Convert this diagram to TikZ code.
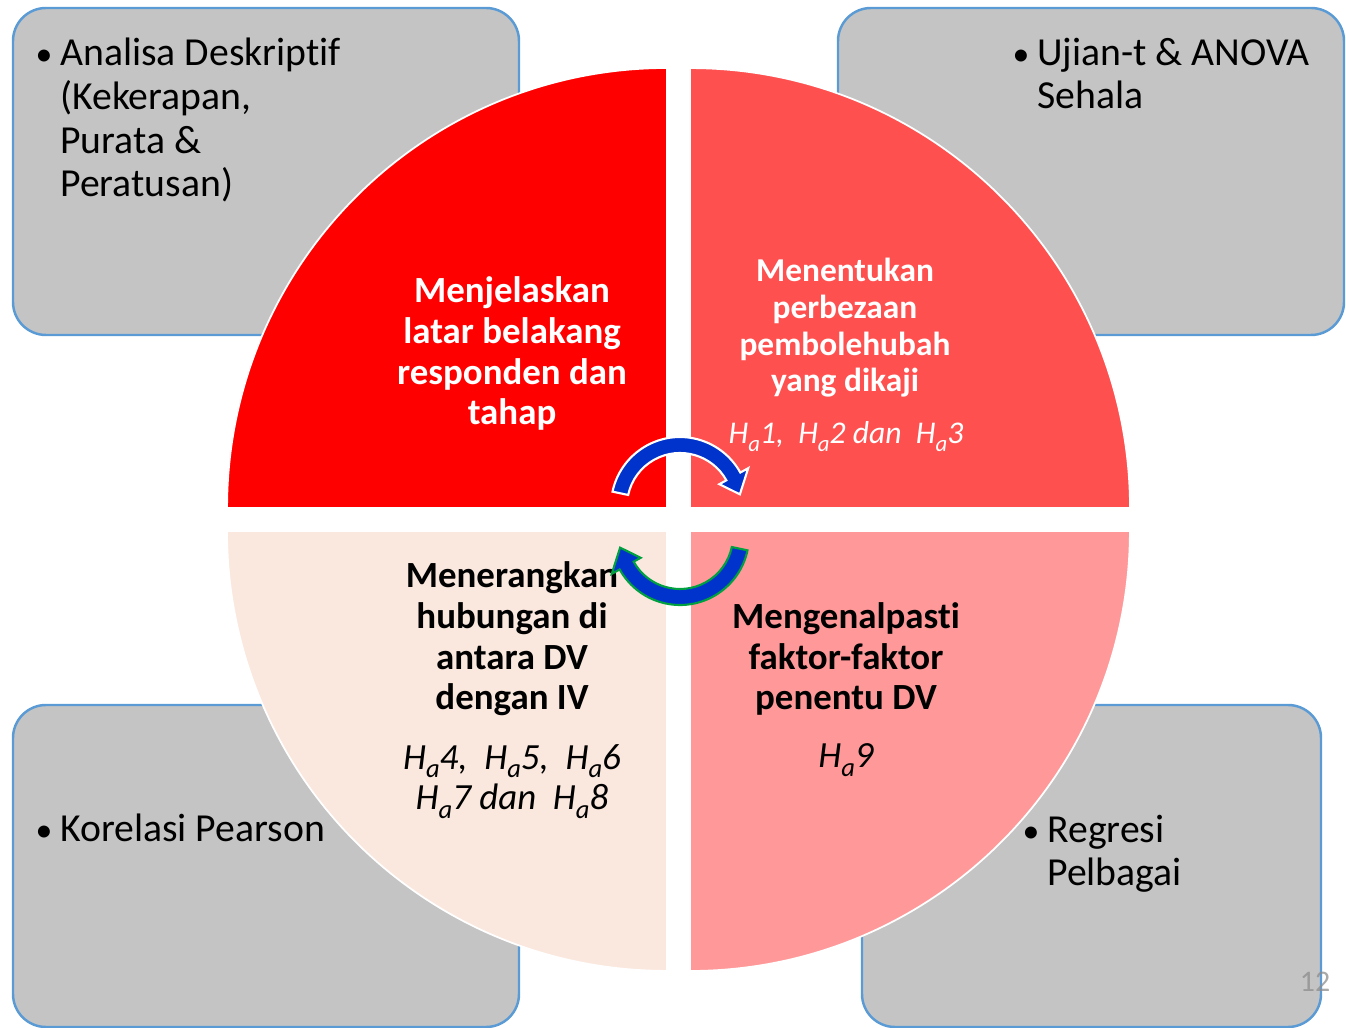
\documentclass[tikz,border=0pt]{standalone}
\usepackage{fontspec}
\usepackage{graphicx}
\setmainfont{Carlito}[Ligatures=NoCommon]

\definecolor{boxfill}{HTML}{C4C4C4}
\definecolor{boxline}{HTML}{5B9BD5}
\definecolor{quadA}{HTML}{FF0000}
\definecolor{quadB}{HTML}{FF5050}
\definecolor{quadC}{HTML}{FF9999}
\definecolor{quadD}{HTML}{FAE8DE}
\definecolor{arrowblue}{HTML}{0033CC}
\definecolor{arrowgreen}{HTML}{00A040}
\definecolor{pagegray}{HTML}{8C8C8C}

\newcommand{\Ha}[1]{H\raisebox{-0.24em}{\scalebox{0.72}{a}}#1}
\newcommand{\bulletpt}{\makebox[0pt][r]{\scalebox{0.85}{\textbullet}\hspace{4.5pt}}}

\begin{document}
\begin{tikzpicture}[
x=0.02cm, y=0.02cm,
databox/.style={draw=boxline,fill=boxfill,line width=1.4pt,rounded corners=0.66cm},
quadrant/.style={draw=white,line width=1pt},
aim/.style={font=\bfseries\fontsize{21}{23.3}\selectfont,align=center,anchor=base},
aimsmall/.style={font=\bfseries\fontsize{19}{21}\selectfont,align=center,anchor=base},
hypo/.style={font=\itshape\fontsize{21}{23.3}\selectfont,align=center,anchor=base},
hyposmall/.style={font=\itshape\fontsize{18}{21}\selectfont,align=center,anchor=base},
method/.style={font=\fontsize{22.6}{25}\selectfont,align=left,anchor=base west,inner sep=0pt},
cyclearrow/.style={fill=arrowblue,line width=1.2pt,line join=miter},
pagenum/.style={font=\fontsize{17}{20}\selectfont,text=pagegray,text opacity=0.75},
]

\useasboundingbox (0,0) rectangle (1346,1028);

% Boxes with the methods of analysis
\draw[databox] (13,693) rectangle (519,1020);
\draw[databox] (838,693) rectangle (1344,1020);
\draw[databox] (13,1) rectangle (519,323);
\draw[databox] (862,1) rectangle (1321,323);

% The four quarters of the circle
\foreach \cx/\cy/\start/\col in {667/520/90/quadA, 690/520/0/quadB, 667/497/180/quadD, 690/497/270/quadC}{
  \filldraw[quadrant,fill=\col] (\cx,\cy) -- ++(\start:440) arc[start angle=\start,end angle=\start+90,radius=8.8cm] -- cycle;
}

% Aims (anchored at the base of the last line)
\node[aim,text=white] (jelas) at (512,603) {Menjelaskan\\latar belakang\\responden dan\\tahap};
\node[aimsmall,text=white] (tentu) at (845,636) {Menentukan\\perbezaan\\pembolehubah\\yang dikaji};
\node[hyposmall,text=white] (hipotentu) at (846,584) {\Ha{1},\ \ \Ha{2} dan\ \ \Ha{3}};
\node[aim] (terang) at (512,318) {Menerangkan\\hubungan di\\antara DV\\dengan IV};
\node[hypo] (hipoterang) at (512,218) {\Ha{4},\ \ \Ha{5},\ \ \Ha{6}\\\Ha{7} dan\ \ \Ha{8}};
\node[aim] (kenal) at (846,318) {Mengenalpasti\\faktor-faktor\\penentu DV};
\node[hypo] (hipokenal) at (846,260) {\Ha{9}};

% Methods
\node[method] (deskriptif) at (60,831) {\bulletpt Analisa Deskriptif\\(Kekerapan,\\Purata \&\\Peratusan)};
\node[method] (ujian) at (1037,919) {\bulletpt Ujian-t \& ANOVA\\Sehala};
\node[method] (korelasi) at (60,186) {\bulletpt Korelasi Pearson};
\node[method] (regresi) at (1047,142) {\bulletpt Regresi\\Pelbagai};

% Circular arrows in the middle
\foreach \rot/\edge in {0/white, 180/arrowgreen}{
  \filldraw[cyclearrow,draw=\edge,shift={(680,507)},rotate=\rot,shift={(0,15)}]
    (168:69) arc[start angle=168,end angle=29,radius=1.38cm] -- (29:78) -- (11:61) -- (29:45)
    -- (29:53) arc[start angle=29,end angle=168,radius=1.06cm] -- cycle;
}

\node[pagenum] (halaman) at (1315,46) {12};
\end{tikzpicture}
\end{document}
